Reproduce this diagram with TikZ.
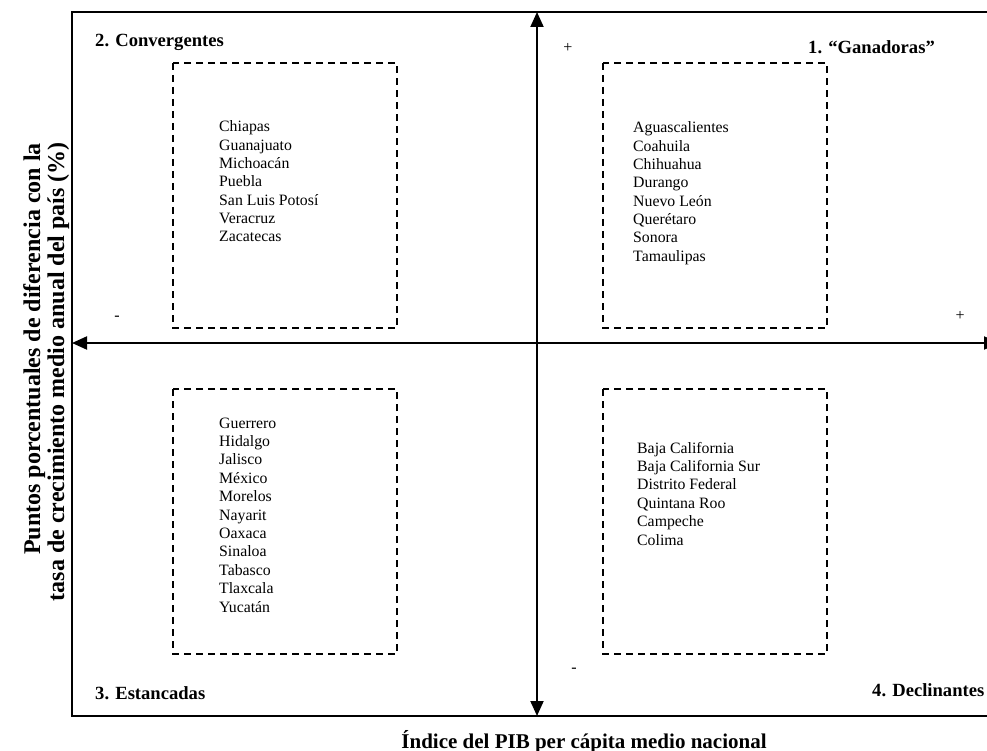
\documentclass[tikz,border=0pt]{standalone}
\usepackage{fontspec}
\setmainfont{Liberation Serif}
\usetikzlibrary{arrows.meta}
\tikzset{
  frame/.style={line width=2pt},
  axis/.style={line width=2pt,
    {Triangle[length=15pt,width=13pt]}-{Triangle[length=15pt,width=13pt]}},
  group/.style={line width=1.5pt, dash pattern=on 7pt off 5pt},
  quad/.style={font=\fontsize{18.6}{22}\selectfont\bfseries, anchor=base west, inner sep=0pt},
  item/.style={font=\fontsize{15.8}{18.3}\selectfont, anchor=base west, inner sep=0pt},
  sign/.style={font=\fontsize{16}{18}\selectfont, inner sep=0pt},
  axlabel/.style={font=\fontsize{21}{24}\selectfont\bfseries, inner sep=0pt},
  vlabel/.style={font=\fontsize{24}{26}\selectfont\bfseries, inner sep=0pt,
    rotate=90, anchor=base east},
}
\begin{document}
\begin{tikzpicture}[x=1pt,y=-1pt]
\useasboundingbox (0,0) rectangle (987,751);
\clip (0,0) rectangle (987,751);

% outer frame (its right side lies past the page edge)
\draw[frame] (72,12) rectangle (1000,716);

% axes
\coordinate (top) at (537,12);
\coordinate (bot) at (537,716);
\coordinate (lft) at (72,343);
\coordinate (rgt) at (999,343);
\draw[axis] (bot) -- (top);
\draw[axis] (lft) -- (rgt);

% dashed groups
\draw[group] (173,63) rectangle (397,328);
\draw[group] (603,63) rectangle (827,328);
\draw[group] (173,389) rectangle (397,654);
\draw[group] (603,389) rectangle (827,654);

% quadrant titles
\node[quad] (q2) at (95,46.7) {2. Convergentes};
\node[quad] (q1) at (808,53.3) {1. “Ganadoras”};
\node[quad] (q3) at (95,699) {3. Estancadas};
\node[quad] (q4) at (872,696) {4. Declinantes};

% signs
\node[sign] (ptop) at (568,48) {+};
\node[sign] (mlft) at (117,318) {-};
\node[sign] (prgt) at (960,316) {+};
\node[sign] (mbot) at (574,670) {-};

% state lists
\foreach \s [count=\i] in {Chiapas,Guanajuato,Michoacán,Puebla,San Luis Potosí,Veracruz,Zacatecas}
  \node[item] (conv-\i) at (219,{132+18.3*(\i-1)}) {\s};
\foreach \s [count=\i] in {Aguascalientes,Coahuila,Chihuahua,Durango,Nuevo León,Querétaro,Sonora,Tamaulipas}
  \node[item] (gan-\i) at (633,{133+18.3*(\i-1)}) {\s};
\foreach \s [count=\i] in {Guerrero,Hidalgo,Jalisco,México,Morelos,Nayarit,Oaxaca,Sinaloa,Tabasco,Tlaxcala,Yucatán}
  \node[item] (est-\i) at (219,{428+18.4*(\i-1)}) {\s};
\foreach \s [count=\i] in {Baja California,Baja California Sur,Distrito Federal,Quintana Roo,Campeche,Colima}
  \node[item] (dec-\i) at (637,{453+18.4*(\i-1)}) {\s};

% axis titles
\node[axlabel, anchor=base] (xlab) at (584,748) {Índice del PIB per cápita medio nacional};
\node[vlabel] (ylab1) at (40,143) {Puntos porcentuales de diferencia con la};
\node[vlabel] (ylab2) at (64,142) {tasa de crecimiento medio anual del país (\%)};
\end{tikzpicture}
\end{document}
